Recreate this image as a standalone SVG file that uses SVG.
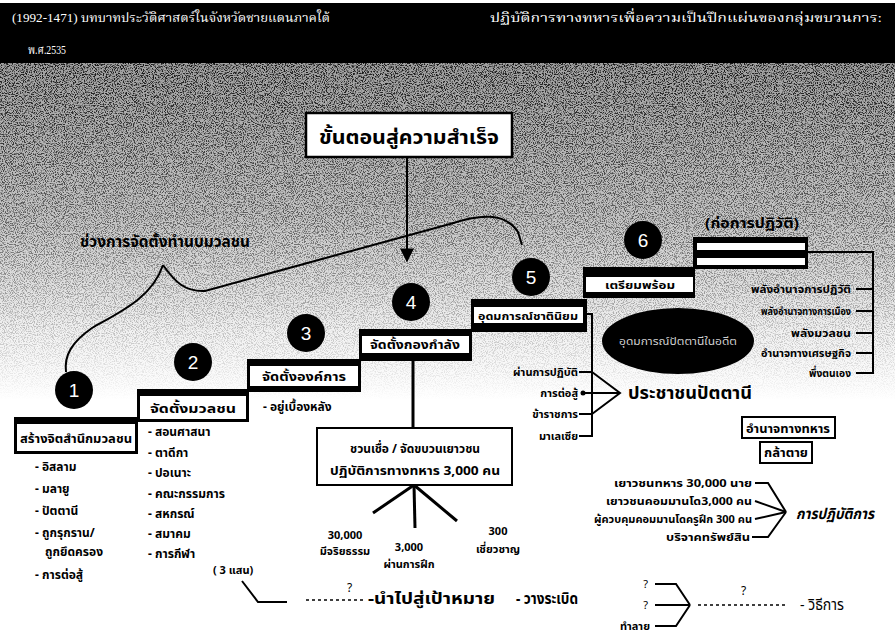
<svg xmlns="http://www.w3.org/2000/svg" width="895" height="637" viewBox="0 0 895 637">
<defs>
  <linearGradient id="bgfade" x1="0" y1="62" x2="0" y2="400" gradientUnits="userSpaceOnUse">
    <stop offset="0" stop-color="#a0a0a0"/>
    <stop offset="0.45" stop-color="#c4c4c4"/>
    <stop offset="0.8" stop-color="#f2f2f2"/>
    <stop offset="1" stop-color="#ffffff"/>
  </linearGradient>
  <linearGradient id="grainfade" x1="0" y1="62" x2="0" y2="400" gradientUnits="userSpaceOnUse">
    <stop offset="0" stop-color="#000" stop-opacity="0.85"/>
    <stop offset="0.5" stop-color="#000" stop-opacity="0.5"/>
    <stop offset="1" stop-color="#000" stop-opacity="0"/>
  </linearGradient>
  <filter id="grain" x="0" y="62" width="895" height="340" filterUnits="userSpaceOnUse" color-interpolation-filters="sRGB">
    <feTurbulence type="fractalNoise" baseFrequency="0.9" numOctaves="2" seed="7" result="n"/>
    <feColorMatrix in="n" type="matrix" values="0 0 0 0 0  0 0 0 0 0  0 0 0 0 0  5 0 0 0 -2.3" result="dots"/>
    <feComposite in="dots" in2="SourceGraphic" operator="in"/>
  </filter>
  <marker id="ah" viewBox="0 0 10 10" refX="9" refY="5" markerWidth="7" markerHeight="7" orient="auto">
    <path d="M0,0 L10,5 L0,10 z" fill="#000"/>
  </marker>
  <style>
    .hdr{font-family:"Liberation Serif","Noto Serif Thai","Noto Sans Thai",serif;font-size:13px;fill:#fff}
    .b{font-family:"Noto Sans","Noto Sans Thai","Liberation Sans",sans-serif;font-weight:bold;fill:#000}
    .n{font-family:"Noto Sans","Noto Sans Thai","Liberation Sans",sans-serif;fill:#000}
    .num{font-family:"Liberation Sans","Noto Sans",sans-serif;font-size:19px;fill:#fff;text-anchor:middle}
    .circ{fill:#000}
    .outer{fill:#000}
    .inner{fill:#fff}
    .ln{fill:none;stroke:#000;stroke-width:2}
    .thick{fill:none;stroke:#000;stroke-width:3}
    .dash{fill:none;stroke:#000;stroke-width:1.3;stroke-dasharray:3 3}
    .lbl{font-size:12px}
    .sm{font-size:11px}
  </style>
</defs>

<!-- background -->
<rect x="0" y="0" width="895" height="637" fill="#fff"/>
<rect x="0" y="62" width="895" height="340" fill="url(#bgfade)"/>
<rect x="0" y="62" width="895" height="340" fill="url(#grainfade)" filter="url(#grain)"/>

<!-- header band -->
<g id="header">
  <rect x="0" y="3" width="895" height="60" fill="#000"/>
  <text class="hdr" x="12" y="22" textLength="318" lengthAdjust="spacingAndGlyphs">(1992-1471)  บทบาทประวัติศาสตร์ในจังหวัดชายแดนภาคใต้</text>
  <text class="hdr" x="490" y="22" textLength="392" lengthAdjust="spacingAndGlyphs">ปฏิบัติการทางทหารเพื่อความเป็นปึกแผ่นของกลุ่มขบวนการ:</text>
  <text class="hdr" x="28" y="54" textLength="38" lengthAdjust="spacingAndGlyphs">พ.ศ.2535</text>
</g>

<!-- title -->
<g id="title">
  <rect x="306" y="113" width="206" height="44" fill="#fff" stroke="#000" stroke-width="2.5"/>
  <text class="b" x="409" y="144" font-size="20" text-anchor="middle" textLength="180" lengthAdjust="spacingAndGlyphs">ขั้นตอนสู่ความสำเร็จ</text>
</g>

<g id="bracelabel">
  <text class="b" x="80" y="247" font-size="15" textLength="170" lengthAdjust="spacingAndGlyphs">ช่วงการจัดตั้งทำนบมวลชน</text>
</g>

<!-- connectors -->
<g id="connectors">
  <line class="ln" x1="407" y1="157" x2="407" y2="261" marker-end="url(#ah)"/>
  <path class="ln" d="M163,265 C175,282 185,292 205,291 L450,224 C480,214 505,212 518,232 L522,245"/>
  <path class="ln" d="M163,265 C152,298 120,312 92,328 C72,342 64,355 66,372"/>
  <line class="thick" x1="413" y1="360" x2="413" y2="428"/>
  <line class="thick" x1="414" y1="485" x2="373" y2="513"/>
  <line class="thick" x1="414" y1="485" x2="415" y2="528"/>
  <line class="thick" x1="414" y1="485" x2="457" y2="521"/>
  <polyline class="ln" points="587,314 592,314 592,436 579,436"/>
  <line class="ln" x1="579" y1="372" x2="592" y2="372"/>
  <line class="ln" x1="579" y1="414" x2="592" y2="414"/>
  <polyline class="ln" points="592,372 620,393 592,414"/>
  <line class="ln" x1="582" y1="393" x2="620" y2="393"/>
  <circle cx="583" cy="393" r="2.5" fill="#000"/>
  <polyline class="ln" points="808,252 873,252 873,373 856,373"/>
  <line class="ln" x1="856" y1="289" x2="873" y2="289"/>
  <line class="ln" x1="856" y1="311" x2="873" y2="311"/>
  <line class="ln" x1="856" y1="333" x2="873" y2="333"/>
  <line class="ln" x1="856" y1="353" x2="873" y2="353"/>
  <polyline class="ln" points="755,483 768,483 786,512"/>
  <line class="ln" x1="755" y1="501" x2="786" y2="512"/>
  <line class="ln" x1="755" y1="519" x2="786" y2="512"/>
  <polyline class="ln" points="752,537 768,537 786,512"/>
  <polyline class="ln" points="242,581 258,602 287,602"/>
  <line class="dash" x1="306" y1="600" x2="366" y2="600"/>
  <polyline class="ln" points="655,584 676,584 690,605"/>
  <line class="ln" x1="655" y1="605" x2="690" y2="605"/>
  <polyline class="ln" points="655,626 676,626 690,605"/>
  <line class="dash" x1="698" y1="605" x2="787" y2="605"/>
</g>

<g id="step1">
  <rect class="outer" x="14" y="417" width="124" height="37"/>
  <rect class="inner" x="17" y="424" width="118" height="27"/>
  <text class="b" x="76" y="443" font-size="13" text-anchor="middle" textLength="112" lengthAdjust="spacingAndGlyphs">สร้างจิตสำนึกมวลชน</text>
  <circle class="circ" cx="74" cy="390" r="19"/>
  <text class="num" x="74" y="397">1</text>
  <g class="b lbl">
    <text x="35" y="471">- อิสลาม</text>
    <text x="35" y="493">- มลายู</text>
    <text x="35" y="515">- ปัตตานี</text>
    <text x="35" y="537">- ถูกรุกราน/</text>
    <text x="45" y="556">ถูกยึดครอง</text>
    <text x="35" y="579">- การต่อสู้</text>
  </g>
</g>

<g id="step2">
  <rect class="outer" x="137" y="389" width="112" height="33"/>
  <rect class="inner" x="140" y="396" width="106" height="23"/>
  <text class="b" x="193" y="413" font-size="13" text-anchor="middle" textLength="86" lengthAdjust="spacingAndGlyphs">จัดตั้งมวลชน</text>
  <circle class="circ" cx="193" cy="362" r="19"/>
  <text class="num" x="193" y="369">2</text>
  <g class="b lbl">
    <text x="148" y="436">- สอนศาสนา</text>
    <text x="148" y="457">- ตาดีกา</text>
    <text x="148" y="477">- ปอเนาะ</text>
    <text x="148" y="498">- คณะกรรมการ</text>
    <text x="148" y="518">- สหกรณ์</text>
    <text x="148" y="538">- สมาคม</text>
    <text x="148" y="558">- การกีฬา</text>
  </g>
</g>

<g id="step3">
  <rect class="outer" x="247" y="359" width="114" height="33"/>
  <rect class="inner" x="250" y="366" width="108" height="20"/>
  <text class="b" x="304" y="381" font-size="12" text-anchor="middle" textLength="84" lengthAdjust="spacingAndGlyphs">จัดตั้งองค์การ</text>
  <circle class="circ" cx="306" cy="333" r="19"/>
  <text class="num" x="306" y="340">3</text>
  <text class="b lbl" x="263" y="411">- อยู่เบื้องหลัง</text>
</g>

<g id="step4">
  <rect class="outer" x="359" y="329" width="113" height="32"/>
  <rect class="inner" x="362" y="336" width="107" height="17"/>
  <text class="b" x="415" y="349" font-size="12" text-anchor="middle" textLength="90" lengthAdjust="spacingAndGlyphs">จัดตั้งกองกำลัง</text>
  <circle class="circ" cx="411" cy="302" r="19"/>
  <text class="num" x="411" y="309">4</text>
</g>

<g id="militarybox">
  <rect x="317" y="428" width="195" height="57" fill="#fff" stroke="#000" stroke-width="2"/>
  <text class="b" x="415" y="453" font-size="12.5" text-anchor="middle" textLength="130" lengthAdjust="spacingAndGlyphs">ชวนเชื่อ / จัดขบวนเยาวชน</text>
  <text class="b" x="415" y="475" font-size="12.5" text-anchor="middle" textLength="170" lengthAdjust="spacingAndGlyphs">ปฏิบัติการทางทหาร 3,000 คน</text>
  <g class="b sm" text-anchor="middle">
    <text x="345" y="539">30,000</text>
    <text x="345" y="555">มีจริยธรรม</text>
    <text x="409" y="551">3,000</text>
    <text x="409" y="568">ผ่านการฝึก</text>
    <text x="498" y="535">300</text>
    <text x="498" y="553">เชี่ยวชาญ</text>
  </g>
</g>

<g id="step5">
  <rect class="outer" x="471" y="299" width="116" height="33"/>
  <rect class="inner" x="474" y="307" width="109" height="16"/>
  <text class="b" x="528" y="320" font-size="11" text-anchor="middle" textLength="100" lengthAdjust="spacingAndGlyphs">อุดมการณ์ชาตินิยม</text>
  <circle class="circ" cx="531" cy="277" r="19"/>
  <text class="num" x="531" y="284">5</text>
</g>

<g id="people">
  <g class="b sm" text-anchor="end">
    <text x="578" y="376">ผ่านการปฏิบัติ</text>
    <text x="578" y="397">การต่อสู้</text>
    <text x="578" y="418">ข้าราชการ</text>
    <text x="578" y="440">มาเลเซีย</text>
  </g>
  <text class="b" x="628" y="399" font-size="18" textLength="124" lengthAdjust="spacingAndGlyphs">ประชาชนปัตตานี</text>
</g>

<g id="ellipse">
  <ellipse cx="678" cy="341" rx="76" ry="33" fill="#000"/>
  <text class="n" x="678" y="345" font-size="10" style="fill:#cfcfcf" text-anchor="middle" textLength="118" lengthAdjust="spacingAndGlyphs">อุดมการณ์ปัตตานีในอดีต</text>
</g>

<g id="step6">
  <rect class="outer" x="583" y="267" width="112" height="31"/>
  <rect class="inner" x="586" y="277" width="107" height="15"/>
  <text class="b" x="640" y="289" font-size="11" text-anchor="middle" textLength="70" lengthAdjust="spacingAndGlyphs">เตรียมพร้อม</text>
  <circle class="circ" cx="643" cy="240" r="19"/>
  <text class="num" x="643" y="247">6</text>
</g>

<g id="step7">
  <text class="b" x="752" y="228" font-size="14" text-anchor="middle" textLength="94" lengthAdjust="spacingAndGlyphs">(ก่อการปฏิวัติ)</text>
  <rect class="outer" x="693" y="237" width="115" height="32"/>
  <rect class="inner" x="697" y="243" width="108" height="22"/>
  <rect x="697" y="250" width="108" height="8" fill="#000"/>
  <g class="b sm" text-anchor="end">
    <text x="851" y="293" textLength="100" lengthAdjust="spacingAndGlyphs">พลังอำนาจการปฏิวัติ</text>
    <text x="851" y="315" textLength="90" lengthAdjust="spacingAndGlyphs">พลังอำนาจทางการเมือง</text>
    <text x="851" y="337" textLength="60" lengthAdjust="spacingAndGlyphs">พลังมวลชน</text>
    <text x="851" y="357" textLength="90" lengthAdjust="spacingAndGlyphs">อำนาจทางเศรษฐกิจ</text>
    <text x="851" y="377" textLength="42" lengthAdjust="spacingAndGlyphs">พึ่งตนเอง</text>
  </g>
</g>

<g id="military">
  <rect x="742" y="417" width="93" height="21" fill="#fff" stroke="#000" stroke-width="2"/>
  <text class="b" x="788" y="433" font-size="13" text-anchor="middle" textLength="84" lengthAdjust="spacingAndGlyphs">อำนาจทางทหาร</text>
  <rect x="760" y="442" width="52" height="21" fill="#fff" stroke="#000" stroke-width="2"/>
  <text class="b" x="786" y="457" font-size="13" text-anchor="middle" textLength="44" lengthAdjust="spacingAndGlyphs">กล้าตาย</text>
  <g class="b sm" text-anchor="end">
    <text x="752" y="487" textLength="138" lengthAdjust="spacingAndGlyphs">เยาวชนทหาร 30,000 นาย</text>
    <text x="752" y="505" textLength="146" lengthAdjust="spacingAndGlyphs">เยาวชนคอมมานโด3,000 คน</text>
    <text x="752" y="523" textLength="158" lengthAdjust="spacingAndGlyphs">ผู้ควบคุมคอมมานโดครูฝึก 300 คน</text>
    <text x="750" y="541" textLength="84" lengthAdjust="spacingAndGlyphs">บริจาคทรัพย์สิน</text>
  </g>
  <text class="b" x="796" y="519" font-size="15" font-style="italic" textLength="78" lengthAdjust="spacingAndGlyphs">การปฏิบัติการ</text>
</g>

<g id="bottom">
  <text class="b sm" x="213" y="574">( 3 แสน)</text>
  <text class="n" x="347" y="592" font-size="12">?</text>
  <text class="b" x="368" y="604" font-size="16" textLength="127" lengthAdjust="spacingAndGlyphs">-นำไปสู่เป้าหมาย</text>
  <text class="b" x="516" y="604" font-size="16" textLength="62" lengthAdjust="spacingAndGlyphs">- วางระเบิด</text>
  <text class="n" x="648" y="588" font-size="11" text-anchor="end">?</text>
  <text class="n" x="648" y="609" font-size="11" text-anchor="end">?</text>
  <text class="b sm" x="650" y="630" text-anchor="end">ทำลาย</text>
  <text class="n" x="741" y="595" font-size="12">?</text>
  <text class="n" x="800" y="610" font-size="15" textLength="44" lengthAdjust="spacingAndGlyphs">- วิธีการ</text>
</g>
</svg>
